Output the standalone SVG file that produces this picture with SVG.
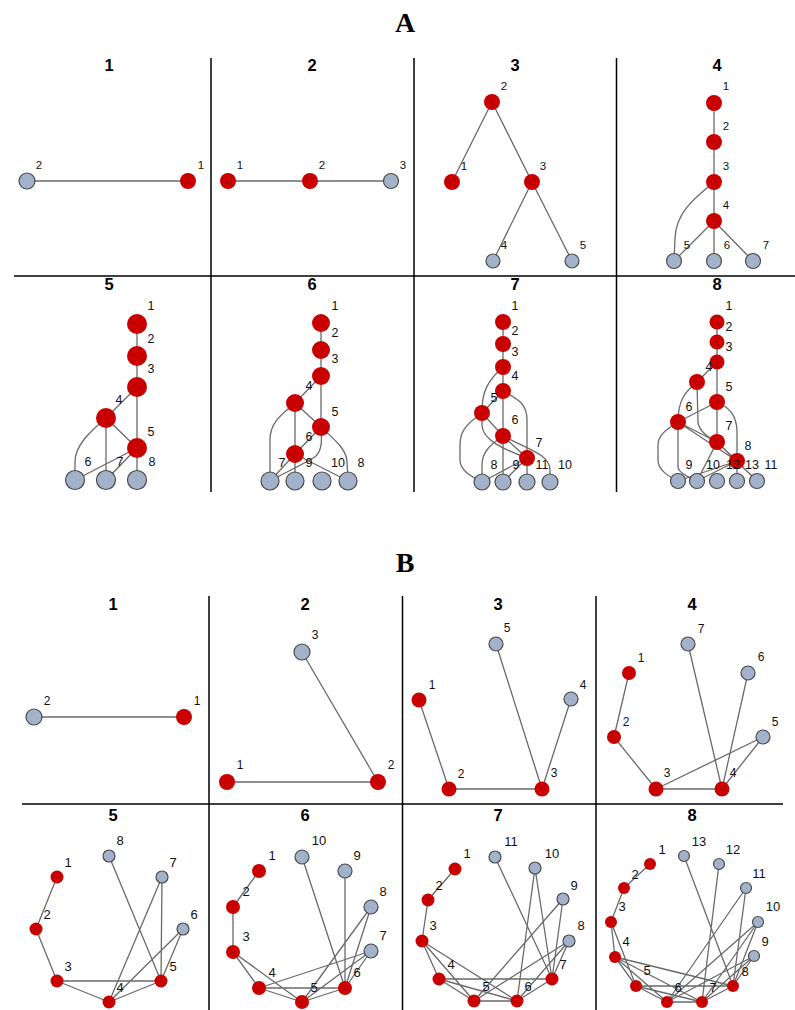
<svg xmlns="http://www.w3.org/2000/svg" width="795" height="1010" viewBox="0 0 795 1010">
<style>
.e{fill:none;stroke:#6a6a6a;stroke-width:1.3}
.r{fill:#c80000}
.g{fill:#a2b2ca;stroke:#4a4a4a;stroke-width:1.2}
.l{font-family:"Liberation Sans",Arial,sans-serif;fill:#111;text-anchor:middle}
.la{font-size:11.5px}.lb{font-size:12.5px}.lc{font-size:12px}.ld{font-size:13px}
.pt{font-family:"Liberation Sans",Arial,sans-serif;font-weight:bold;font-size:16.5px;text-anchor:middle;fill:#000}
.big{font-family:"Liberation Serif","DejaVu Serif",serif;font-size:28px;font-weight:bold;text-anchor:middle;fill:#000}
.grid{stroke:#000;stroke-width:1.5}
</style>
<rect width="795" height="1010" fill="#fff"/>
<g id="titles">
<text class="big" x="405" y="32">A</text>
<text class="big" x="405" y="572">B</text>
<text class="pt" x="109" y="71">1</text><text class="pt" x="312" y="71">2</text><text class="pt" x="515" y="71">3</text><text class="pt" x="717" y="71">4</text>
<text class="pt" x="109" y="290">5</text><text class="pt" x="312" y="290">6</text><text class="pt" x="515" y="290">7</text><text class="pt" x="717" y="290">8</text>
<text class="pt" x="113" y="610">1</text><text class="pt" x="305" y="610">2</text><text class="pt" x="498" y="610">3</text><text class="pt" x="692" y="610">4</text>
<text class="pt" x="113" y="821">5</text><text class="pt" x="305" y="821">6</text><text class="pt" x="498" y="821">7</text><text class="pt" x="692" y="821">8</text>
</g>
<g id="grid">
<line class="grid" x1="211" y1="58" x2="211" y2="492"/>
<line class="grid" x1="414" y1="58" x2="414" y2="492"/>
<line class="grid" x1="616.5" y1="58" x2="616.5" y2="492"/>
<line class="grid" x1="14" y1="276" x2="795" y2="276"/>
<line class="grid" x1="209" y1="596" x2="209" y2="1010"/>
<line class="grid" x1="402.5" y1="596" x2="402.5" y2="1010"/>
<line class="grid" x1="596" y1="596" x2="596" y2="1010"/>
<line class="grid" x1="22" y1="804" x2="783" y2="804"/>
</g>
<g id="connectors">
<!-- A1 -->
<path class="e" d="M27,181L188,181"/>
<!-- A2 -->
<path class="e" d="M228,181L310,181M310,181L391,181"/>
<!-- A3 -->
<path class="e" d="M492,102L452,182M492,102L532,182M532,182L493,261M532,182L572,261"/>
<!-- A4 -->
<path class="e" d="M714,103L714,142M714,142L714,182M714,182L714,221M714,221L674,261M714,221L714,261M714,221L753,261"/>
<path class="e" d="M714,182C695,198 676,212 675,238L674,261"/>
<!-- A5 -->
<path class="e" d="M137,324L137,356M137,356L137,387M137,387L106,418M137,387L137,448M106,418L137,448M106,418L106,480M137,448L137,480M137,448L75,480M137,448L106,480"/>
<path class="e" d="M106,418C90,432 75,445 75,462L75,480"/>
<!-- A6 -->
<path class="e" d="M321,323L321,350M321,350L321,376M321,376L295,403M321,376L321,427M295,403L321,427M295,403L295,454M321,427L295,454M295,454L270,481M295,454L295,481M295,454L348,481"/>
<path class="e" d="M295,403C282,414 270,422 270,440L270,481"/>
<path class="e" d="M321,427C322,440 322,450 316,456C308,462 290,470 270,481"/>
<path class="e" d="M321,427C335,440 347,450 347,462L348,481"/>
<!-- A7 -->
<path class="e" d="M503,322L503,344M503,344L503,367M503,367L503,391M503,391L503,436M503,436L503,482M503,391L482,413M482,413L503,436M503,436L527,458M527,458L527,482M527,458L503,482M527,458L482,482"/>
<path class="e" d="M503,367C488,380 482,392 482,410L482,425C482,440 505,450 527,458"/>
<path class="e" d="M503,391C520,400 527,405 527,420L527,458"/>
<path class="e" d="M482,413C465,425 460,432 460,445L460,460C460,470 470,476 482,482"/>
<path class="e" d="M503,436C490,445 482,452 482,465L482,482"/>
<path class="e" d="M503,436C530,450 550,455 550,470L550,482"/>
<!-- A8 -->
<path class="e" d="M717,322L717,342M717,342L717,362M717,362L717,402M717,402L717,442M717,362L697,382M717,402L678,422M678,422L717,442M678,422L737,461M717,442L737,461M737,461L737,481M717,442L697,481M737,461L697,481M737,461L678,481M717,442L757,481"/>
<path class="e" d="M697,382C685,392 678,400 678,422"/>
<path class="e" d="M697,382L698,423C700,432 708,437 717,442"/>
<path class="e" d="M717,402C730,408 736,415 737,430L737,461"/>
<path class="e" d="M678,422C665,430 658,436 658,445L658,460C658,470 668,476 678,481"/>
<path class="e" d="M678,422L678,468C680,474 690,478 697,481"/>
<!-- B1 -->
<path class="e" d="M34,717L184,717"/>
<!-- B2 -->
<path class="e" d="M227,782L378,782M378,782L302,652"/>
<!-- B3 -->
<path class="e" d="M419,700L449,789M449,789L542,789M542,789L496,644M542,789L571,699"/>
<!-- B4 -->
<path class="e" d="M629,673L614,737M614,737L656,789M656,789L722,789M656,789L763,737M722,789L763,737M722,789L748,673M722,789L688,644"/>
<!-- B5 -->
<path class="e" d="M57,877L36,929M36,929L57,981M57,981L109,1002M57,981L161,981M109,1002L161,981M109,1002L162,877M109,1002L183,929M161,981L183,929M161,981L162,877M161,981L109,856"/>
<!-- B6 -->
<path class="e" d="M259,871L233,907M233,907L233,952M233,952L259,988M233,952L302,1002M259,988L302,1002M259,988L345,988M259,988L371,951M302,1002L345,988M302,1002L371,951M302,1002L371,907M345,988L371,951M345,988L371,907M345,988L345,871M345,988L302,857"/>
<!-- B7 -->
<path class="e" d="M455,869L428,900M428,900L422,941M422,941L439,979M422,941L474,1001M422,941L517,1001M439,979L474,1001M439,979L517,1001M439,979L552,979M474,1001L517,1001M474,1001L569,941M474,1001L563,899M517,1001L552,979M517,1001L569,941M517,1001L535,868M552,979L569,941M552,979L563,899M552,979L535,868M552,979L495,857"/>
<!-- B8 -->
<path class="e" d="M650,864L624,888M624,888L611,922M611,922L615,957M611,922L636,986M615,957L636,986M615,957L667,1002M615,957L702,1002M615,957L733,986M636,986L667,1002M636,986L702,1002M636,986L733,986M667,1002L702,1002M667,1002L754,956M667,1002L758,922M667,1002L746,888M702,1002L733,986M702,1002L754,956M702,1002L758,922M702,1002L719,864M733,986L754,956M733,986L758,922M733,986L746,888M733,986L684,856"/>
</g>
<!-- A1 nodes -->
<g id="a1-2"><circle class="g" cx="27" cy="181" r="8"/><text class="l la" x="39" y="169">2</text></g>
<g id="a1-1"><circle class="r" cx="188" cy="181" r="8"/><text class="l la" x="201" y="169">1</text></g>
<!-- A2 -->
<g id="a2-1"><circle class="r" cx="228" cy="181" r="8"/><text class="l la" x="240" y="169">1</text></g>
<g id="a2-2"><circle class="r" cx="310" cy="181" r="8"/><text class="l la" x="322" y="169">2</text></g>
<g id="a2-3"><circle class="g" cx="391" cy="181" r="7.5"/><text class="l la" x="403" y="169">3</text></g>
<!-- A3 -->
<g id="a3-2"><circle class="r" cx="492" cy="102" r="8"/><text class="l la" x="504" y="90">2</text></g>
<g id="a3-1"><circle class="r" cx="452" cy="182" r="8"/><text class="l la" x="464" y="170">1</text></g>
<g id="a3-3"><circle class="r" cx="532" cy="182" r="8"/><text class="l la" x="543" y="170">3</text></g>
<g id="a3-4"><circle class="g" cx="493" cy="261" r="7"/><text class="l la" x="504" y="249">4</text></g>
<g id="a3-5"><circle class="g" cx="572" cy="261" r="7"/><text class="l la" x="583" y="249">5</text></g>
<!-- A4 -->
<g id="a4-1"><circle class="r" cx="714" cy="103" r="8"/><text class="l la" x="726" y="90">1</text></g>
<g id="a4-2"><circle class="r" cx="714" cy="142" r="8"/><text class="l la" x="726" y="130">2</text></g>
<g id="a4-3"><circle class="r" cx="714" cy="182" r="8"/><text class="l la" x="726" y="170">3</text></g>
<g id="a4-4"><circle class="r" cx="714" cy="221" r="8"/><text class="l la" x="726" y="209">4</text></g>
<g id="a4-5"><circle class="g" cx="674" cy="261" r="7.5"/><text class="l la" x="687" y="249">5</text></g>
<g id="a4-6"><circle class="g" cx="714" cy="261" r="7.5"/><text class="l la" x="727" y="249">6</text></g>
<g id="a4-7"><circle class="g" cx="753" cy="261" r="7.5"/><text class="l la" x="766" y="249">7</text></g>
<!-- A5 -->
<g id="a5-1"><circle class="r" cx="137" cy="324" r="10"/><text class="l lb" x="151" y="310">1</text></g>
<g id="a5-2"><circle class="r" cx="137" cy="356" r="10"/><text class="l lb" x="151" y="343">2</text></g>
<g id="a5-3"><circle class="r" cx="137" cy="387" r="10"/><text class="l lb" x="151" y="373">3</text></g>
<g id="a5-4"><circle class="r" cx="106" cy="418" r="10"/><text class="l lb" x="119" y="404">4</text></g>
<g id="a5-5"><circle class="r" cx="137" cy="448" r="10"/><text class="l lb" x="151" y="436">5</text></g>
<g id="a5-6"><circle class="g" cx="75" cy="480" r="9.5"/><text class="l lb" x="88" y="466">6</text></g>
<g id="a5-7"><circle class="g" cx="106" cy="480" r="9.5"/><text class="l lb" x="120" y="466">7</text></g>
<g id="a5-8"><circle class="g" cx="137" cy="480" r="9.5"/><text class="l lb" x="152" y="466">8</text></g>
<!-- A6 -->
<g id="a6-1"><circle class="r" cx="321" cy="323" r="9"/><text class="l lb" x="335" y="310">1</text></g>
<g id="a6-2"><circle class="r" cx="321" cy="350" r="9"/><text class="l lb" x="335" y="337">2</text></g>
<g id="a6-3"><circle class="r" cx="321" cy="376" r="9"/><text class="l lb" x="335" y="363">3</text></g>
<g id="a6-4"><circle class="r" cx="295" cy="403" r="9"/><text class="l lb" x="309" y="390">4</text></g>
<g id="a6-5"><circle class="r" cx="321" cy="427" r="9"/><text class="l lb" x="335" y="416">5</text></g>
<g id="a6-6"><circle class="r" cx="295" cy="454" r="9"/><text class="l lb" x="309" y="441">6</text></g>
<g id="a6-7"><circle class="g" cx="270" cy="481" r="9"/><text class="l lb" x="282" y="467">7</text></g>
<g id="a6-9"><circle class="g" cx="295" cy="481" r="9"/><text class="l lb" x="309" y="467">9</text></g>
<g id="a6-10"><circle class="g" cx="322" cy="481" r="9"/><text class="l lb" x="338" y="467">10</text></g>
<g id="a6-8"><circle class="g" cx="348" cy="481" r="9"/><text class="l lb" x="361" y="467">8</text></g>
<!-- A7 -->
<g id="a7-1"><circle class="r" cx="503" cy="322" r="8"/><text class="l lb" x="515" y="310">1</text></g>
<g id="a7-2"><circle class="r" cx="503" cy="344" r="8"/><text class="l lb" x="515" y="335">2</text></g>
<g id="a7-3"><circle class="r" cx="503" cy="367" r="8"/><text class="l lb" x="515" y="356">3</text></g>
<g id="a7-4"><circle class="r" cx="503" cy="391" r="8"/><text class="l lb" x="515" y="380">4</text></g>
<g id="a7-5"><circle class="r" cx="482" cy="413" r="8"/><text class="l lb" x="494" y="402">5</text></g>
<g id="a7-6"><circle class="r" cx="503" cy="436" r="8"/><text class="l lb" x="515" y="424">6</text></g>
<g id="a7-7"><circle class="r" cx="527" cy="458" r="8"/><text class="l lb" x="539" y="447">7</text></g>
<g id="a7-8"><circle class="g" cx="482" cy="482" r="8"/><text class="l lb" x="494" y="469">8</text></g>
<g id="a7-9"><circle class="g" cx="503" cy="482" r="8"/><text class="l lb" x="516" y="469">9</text></g>
<g id="a7-11"><circle class="g" cx="527" cy="482" r="8"/><text class="l lb" x="542" y="469">11</text></g>
<g id="a7-10"><circle class="g" cx="550" cy="482" r="8"/><text class="l lb" x="565" y="469">10</text></g>
<!-- A8 -->
<g id="a8-1"><circle class="r" cx="717" cy="322" r="7.5"/><text class="l lb" x="729" y="310">1</text></g>
<g id="a8-2"><circle class="r" cx="717" cy="342" r="7.5"/><text class="l lb" x="729" y="331">2</text></g>
<g id="a8-3"><circle class="r" cx="717" cy="362" r="7.5"/><text class="l lb" x="729" y="351">3</text></g>
<g id="a8-4"><circle class="r" cx="697" cy="382" r="8"/><text class="l lb" x="709" y="371">4</text></g>
<g id="a8-5"><circle class="r" cx="717" cy="402" r="8"/><text class="l lb" x="729" y="391">5</text></g>
<g id="a8-6"><circle class="r" cx="678" cy="422" r="8"/><text class="l lb" x="689" y="411">6</text></g>
<g id="a8-7"><circle class="r" cx="717" cy="442" r="8"/><text class="l lb" x="729" y="430">7</text></g>
<g id="a8-8"><circle class="r" cx="737" cy="461" r="8"/><text class="l lb" x="748" y="450">8</text></g>
<g id="a8-9"><circle class="g" cx="678" cy="481" r="7.5"/><text class="l lb" x="689" y="469">9</text></g>
<g id="a8-10"><circle class="g" cx="697" cy="481" r="7.5"/><text class="l lb" x="713" y="469">10</text></g>
<g id="a8-12"><circle class="g" cx="717" cy="481" r="7.5"/><text class="l lb" x="733" y="469">12</text></g>
<g id="a8-13"><circle class="g" cx="737" cy="481" r="7.5"/><text class="l lb" x="752" y="469">13</text></g>
<g id="a8-11"><circle class="g" cx="757" cy="481" r="7.5"/><text class="l lb" x="771" y="469">11</text></g>
<!-- B1 -->
<g id="b1-2"><circle class="g" cx="34" cy="717" r="8"/><text class="l lc" x="47" y="705">2</text></g>
<g id="b1-1"><circle class="r" cx="184" cy="717" r="8"/><text class="l lc" x="197" y="705">1</text></g>
<!-- B2 -->
<g id="b2-3"><circle class="g" cx="302" cy="652" r="8"/><text class="l lc" x="315" y="639">3</text></g>
<g id="b2-1"><circle class="r" cx="227" cy="782" r="8"/><text class="l lc" x="240" y="769">1</text></g>
<g id="b2-2"><circle class="r" cx="378" cy="782" r="8"/><text class="l lc" x="391" y="769">2</text></g>
<!-- B3 -->
<g id="b3-1"><circle class="r" cx="419" cy="700" r="7.5"/><text class="l lc" x="432" y="689">1</text></g>
<g id="b3-2"><circle class="r" cx="449" cy="789" r="7.5"/><text class="l lc" x="461" y="778">2</text></g>
<g id="b3-3"><circle class="r" cx="542" cy="789" r="7.5"/><text class="l lc" x="554" y="777">3</text></g>
<g id="b3-4"><circle class="g" cx="571" cy="699" r="7"/><text class="l lc" x="583" y="689">4</text></g>
<g id="b3-5"><circle class="g" cx="496" cy="644" r="7"/><text class="l lc" x="507" y="632">5</text></g>
<!-- B4 -->
<g id="b4-1"><circle class="r" cx="629" cy="673" r="7"/><text class="l lc" x="641" y="662">1</text></g>
<g id="b4-2"><circle class="r" cx="614" cy="737" r="7"/><text class="l lc" x="626" y="726">2</text></g>
<g id="b4-3"><circle class="r" cx="656" cy="789" r="7.5"/><text class="l lc" x="667" y="777">3</text></g>
<g id="b4-4"><circle class="r" cx="722" cy="789" r="7.5"/><text class="l lc" x="733" y="777">4</text></g>
<g id="b4-5"><circle class="g" cx="763" cy="737" r="7"/><text class="l lc" x="775" y="726">5</text></g>
<g id="b4-6"><circle class="g" cx="748" cy="673" r="7"/><text class="l lc" x="761" y="661">6</text></g>
<g id="b4-7"><circle class="g" cx="688" cy="644" r="7"/><text class="l lc" x="701" y="633">7</text></g>
<!-- B5 -->
<g id="b5-1"><circle class="r" cx="57" cy="877" r="6.5"/><text class="l ld" x="68" y="867">1</text></g>
<g id="b5-2"><circle class="r" cx="36" cy="929" r="6.5"/><text class="l ld" x="47" y="919">2</text></g>
<g id="b5-3"><circle class="r" cx="57" cy="981" r="6.5"/><text class="l ld" x="68" y="971">3</text></g>
<g id="b5-4"><circle class="r" cx="109" cy="1002" r="6.5"/><text class="l ld" x="120" y="992">4</text></g>
<g id="b5-5"><circle class="r" cx="161" cy="981" r="6.5"/><text class="l ld" x="173" y="971">5</text></g>
<g id="b5-6"><circle class="g" cx="183" cy="929" r="6"/><text class="l ld" x="194" y="919">6</text></g>
<g id="b5-7"><circle class="g" cx="162" cy="877" r="6"/><text class="l ld" x="173" y="867">7</text></g>
<g id="b5-8"><circle class="g" cx="109" cy="856" r="6"/><text class="l ld" x="120" y="845">8</text></g>
<!-- B6 -->
<g id="b6-1"><circle class="r" cx="259" cy="871" r="7"/><text class="l ld" x="272" y="860">1</text></g>
<g id="b6-2"><circle class="r" cx="233" cy="907" r="7"/><text class="l ld" x="246" y="896">2</text></g>
<g id="b6-3"><circle class="r" cx="233" cy="952" r="7"/><text class="l ld" x="246" y="941">3</text></g>
<g id="b6-4"><circle class="r" cx="259" cy="988" r="7"/><text class="l ld" x="272" y="977">4</text></g>
<g id="b6-5"><circle class="r" cx="302" cy="1002" r="7"/><text class="l ld" x="314" y="992">5</text></g>
<g id="b6-6"><circle class="r" cx="345" cy="988" r="7"/><text class="l ld" x="357" y="977">6</text></g>
<g id="b6-7"><circle class="g" cx="371" cy="951" r="7"/><text class="l ld" x="383" y="940">7</text></g>
<g id="b6-8"><circle class="g" cx="371" cy="907" r="7"/><text class="l ld" x="383" y="896">8</text></g>
<g id="b6-9"><circle class="g" cx="345" cy="871" r="7"/><text class="l ld" x="357" y="860">9</text></g>
<g id="b6-10"><circle class="g" cx="302" cy="857" r="7"/><text class="l ld" x="319" y="845">10</text></g>
<!-- B7 -->
<g id="b7-1"><circle class="r" cx="455" cy="869" r="6.5"/><text class="l ld" x="467" y="858">1</text></g>
<g id="b7-2"><circle class="r" cx="428" cy="900" r="6.5"/><text class="l ld" x="439" y="890">2</text></g>
<g id="b7-3"><circle class="r" cx="422" cy="941" r="6.5"/><text class="l ld" x="433" y="930">3</text></g>
<g id="b7-4"><circle class="r" cx="439" cy="979" r="6.5"/><text class="l ld" x="451" y="969">4</text></g>
<g id="b7-5"><circle class="r" cx="474" cy="1001" r="6.5"/><text class="l ld" x="486" y="991">5</text></g>
<g id="b7-6"><circle class="r" cx="517" cy="1001" r="6.5"/><text class="l ld" x="528" y="991">6</text></g>
<g id="b7-7"><circle class="r" cx="552" cy="979" r="6.5"/><text class="l ld" x="563" y="969">7</text></g>
<g id="b7-8"><circle class="g" cx="569" cy="941" r="6"/><text class="l ld" x="581" y="930">8</text></g>
<g id="b7-9"><circle class="g" cx="563" cy="899" r="6"/><text class="l ld" x="574" y="890">9</text></g>
<g id="b7-10"><circle class="g" cx="535" cy="868" r="6"/><text class="l ld" x="552" y="858">10</text></g>
<g id="b7-11"><circle class="g" cx="495" cy="857" r="6"/><text class="l ld" x="511" y="846">11</text></g>
<!-- B8 -->
<g id="b8-1"><circle class="r" cx="650" cy="864" r="6"/><text class="l ld" x="662" y="854">1</text></g>
<g id="b8-2"><circle class="r" cx="624" cy="888" r="6"/><text class="l ld" x="635" y="879">2</text></g>
<g id="b8-3"><circle class="r" cx="611" cy="922" r="6"/><text class="l ld" x="622" y="911">3</text></g>
<g id="b8-4"><circle class="r" cx="615" cy="957" r="6"/><text class="l ld" x="626" y="946">4</text></g>
<g id="b8-5"><circle class="r" cx="636" cy="986" r="6"/><text class="l ld" x="647" y="975">5</text></g>
<g id="b8-6"><circle class="r" cx="667" cy="1002" r="6"/><text class="l ld" x="678" y="992">6</text></g>
<g id="b8-7"><circle class="r" cx="702" cy="1002" r="6"/><text class="l ld" x="713" y="992">7</text></g>
<g id="b8-8"><circle class="r" cx="733" cy="986" r="6"/><text class="l ld" x="745" y="976">8</text></g>
<g id="b8-9"><circle class="g" cx="754" cy="956" r="5.5"/><text class="l ld" x="765" y="946">9</text></g>
<g id="b8-10"><circle class="g" cx="758" cy="922" r="5.5"/><text class="l ld" x="773" y="911">10</text></g>
<g id="b8-11"><circle class="g" cx="746" cy="888" r="5.5"/><text class="l ld" x="759" y="878">11</text></g>
<g id="b8-12"><circle class="g" cx="719" cy="864" r="5.5"/><text class="l ld" x="733" y="854">12</text></g>
<g id="b8-13"><circle class="g" cx="684" cy="856" r="5.5"/><text class="l ld" x="699" y="846">13</text></g>
</svg>
